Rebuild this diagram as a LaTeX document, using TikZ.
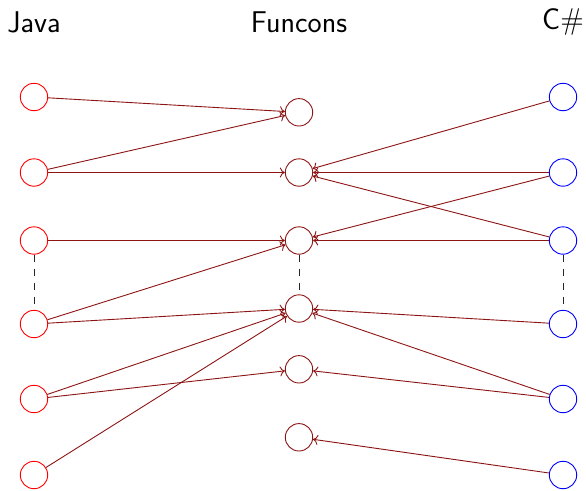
\documentclass[tikz,border=0pt]{standalone}
\usetikzlibrary{arrows.meta}
\definecolor{edgered}{RGB}{140,20,20}
\tikzset{
  jnode/.style={circle,draw=red,minimum size=27.4pt,inner sep=0pt,line width=0.9pt},
  fnode/.style={circle,draw=edgered,minimum size=27.4pt,inner sep=0pt,line width=0.9pt},
  cnode/.style={circle,draw=blue,minimum size=27.4pt,inner sep=0pt,line width=0.9pt},
  title/.style={font=\fontsize{30}{36}\selectfont\sffamily,inner sep=0pt},
  link/.style={draw=edgered,line width=0.9pt,-{To[length=5pt,width=10pt]}},
  sep/.style={draw=black!85,line width=0.9pt,dash pattern=on 7pt off 7pt}
}
\begin{document}
\begin{tikzpicture}[x=1pt,y=-1pt]
\useasboundingbox (0,0) rectangle (586,490);
\node[title] (tj) at (34,22) {Java};
\node[title] (tf) at (299,22) {Funcons};
\node[title] (tc) at (563,22) {C\#};
% Java
\node[jnode] (j1) at (34,97) {};
\node[jnode] (j2) at (34,172.5) {};
\node[jnode] (j3) at (34,240.5) {};
\node[jnode] (j4) at (34,324) {};
\node[jnode] (j5) at (34,399) {};
\node[jnode] (j6) at (34,475) {};
% Funcons
\node[fnode] (f1) at (299,112.3) {};
\node[fnode] (f2) at (299,172.5) {};
\node[fnode] (f3) at (299,240.5) {};
\node[fnode] (f4) at (299,308.5) {};
\node[fnode] (f5) at (299,369.3) {};
\node[fnode] (f6) at (299,437.3) {};
% C#
\node[cnode] (c1) at (563,97) {};
\node[cnode] (c2) at (563,172.5) {};
\node[cnode] (c3) at (563,240.5) {};
\node[cnode] (c4) at (563,324) {};
\node[cnode] (c5) at (563,399) {};
\node[cnode] (c6) at (563,475) {};
% dashed separators
\draw[sep] (j3) -- (j4);
\draw[sep] (f3) -- (f4);
\draw[sep] (c3) -- (c4);
% Java -> Funcons
\draw[link] (j1) -- (f1);
\draw[link] (j2) -- (f1);
\draw[link] (j2) -- (f2);
\draw[link] (j3) -- (f3);
\draw[link] (j4) -- (f3);
\draw[link] (j4) -- (f4);
\draw[link] (j5) -- (f4);
\draw[link] (j5) -- (f5);
\draw[link] (j6) -- (f4);
% C# -> Funcons
\draw[link] (c1) -- (f2);
\draw[link] (c2) -- (f2);
\draw[link] (c2) -- (f3);
\draw[link] (c3) -- (f2);
\draw[link] (c3) -- (f3);
\draw[link] (c4) -- (f4);
\draw[link] (c5) -- (f4);
\draw[link] (c5) -- (f5);
\draw[link] (c6) -- (f6);
\end{tikzpicture}
\end{document}
